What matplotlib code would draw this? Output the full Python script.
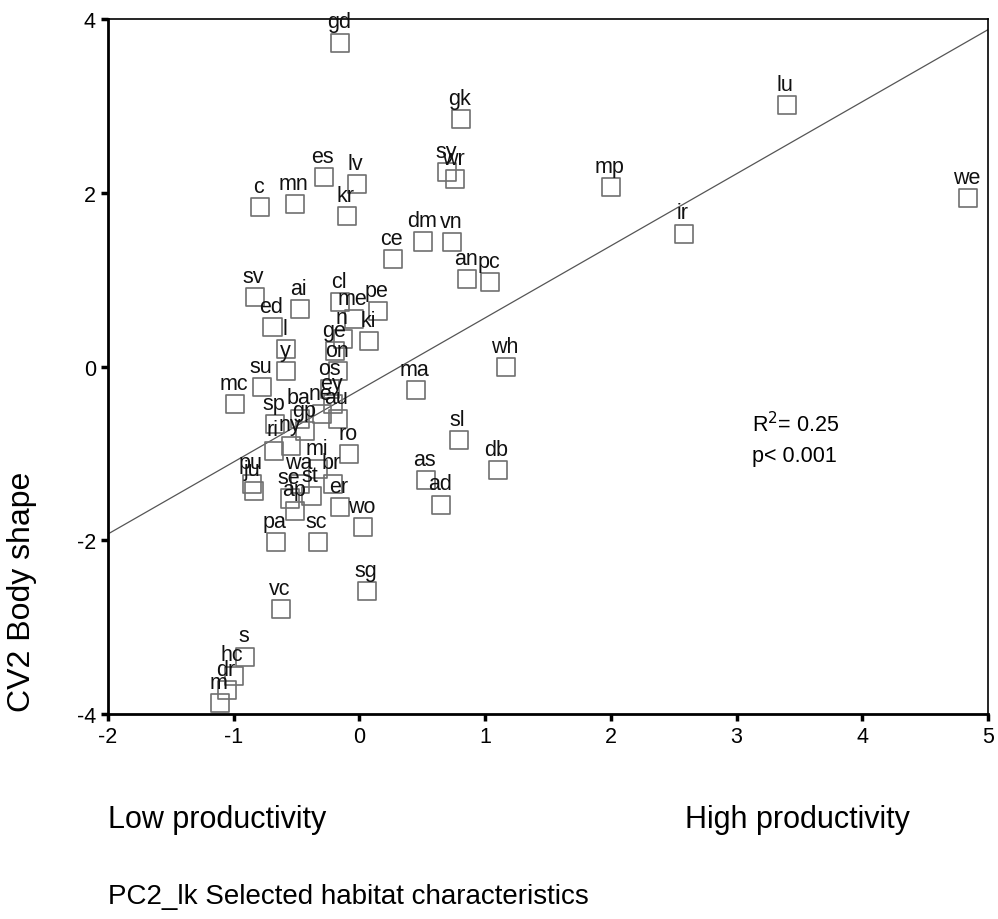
import matplotlib
matplotlib.use("Agg")
import matplotlib.pyplot as plt
import numpy as np

plt.rcParams["font.family"] = ["Liberation Sans", "DejaVu Sans"]
plt.rcParams["axes.unicode_minus"] = False

# site codes and their coordinates (PC2_lk, CV2)
labels = ["gd", "gk", "lu", "we", "mp", "ir", "es", "lv", "kr", "mn", "c",
          "sy", "wr", "dm", "vn", "ce", "an", "pc", "wh", "ma", "sl", "db",
          "as", "ad", "wo", "sg", "vc", "pa", "sc", "s", "hc", "dr", "m",
          "sv", "ai", "ed", "l", "y", "cl", "me", "pe", "n", "ki", "ge",
          "on", "os", "su", "mc", "ba", "ne", "ey", "au", "ro", "sp", "gp",
          "ri", "ny", "pu", "ju", "mi", "wa", "br", "se", "ap", "er", "st"]
pc2 = [-0.15, 0.81, 3.40, 4.84, 2.00, 2.58, -0.28, -0.02, -0.10, -0.51, -0.79,
       0.70, 0.76, 0.51, 0.74, 0.27, 0.86, 1.04, 1.17, 0.45, 0.79, 1.10,
       0.53, 0.65, 0.03, 0.06, -0.62, -0.66, -0.33, -0.91, -1.00, -1.05, -1.11,
       -0.83, -0.47, -0.69, -0.58, -0.58, -0.15, -0.04, 0.15, -0.13, 0.08, -0.19,
       -0.17, -0.23, -0.77, -0.99, -0.47, -0.30, -0.21, -0.17, -0.08, -0.67, -0.43,
       -0.68, -0.54, -0.85, -0.84, -0.33, -0.47, -0.21, -0.55, -0.51, -0.15, -0.38]
cv2 = [3.73, 2.85, 3.01, 1.94, 2.07, 1.53, 2.18, 2.10, 1.73, 1.87, 1.84,
       2.24, 2.16, 1.44, 1.43, 1.24, 1.01, 0.97, -0.01, -0.27, -0.85, -1.19,
       -1.31, -1.59, -1.85, -2.59, -2.79, -2.02, -2.02, -3.34, -3.56, -3.73, -3.88,
       0.80, 0.66, 0.45, 0.20, -0.05, 0.74, 0.55, 0.64, 0.32, 0.29, 0.18,
       -0.05, -0.26, -0.24, -0.43, -0.60, -0.55, -0.43, -0.60, -1.01, -0.66, -0.74,
       -0.97, -0.91, -1.35, -1.43, -1.18, -1.35, -1.35, -1.52, -1.66, -1.62, -1.49]

# fitted regression line
fit_intercept = -0.27
fit_slope = 0.83
r2_text = "R$^2$= 0.25"
p_text = "p< 0.001"

fig = plt.figure(figsize=(9.98, 9.2), dpi=100)
ax = fig.add_axes([0.108, 0.223, 0.882, 0.755])

ax.scatter(pc2, cv2, marker="s", s=13 ** 2, facecolors="none",
           edgecolors="#707070", linewidths=1.2, zorder=3)
for lab, x, y in zip(labels, pc2, cv2):
    ax.annotate(lab, (x, y), xytext=(-1, 11), textcoords="offset points",
                ha="center", va="baseline", fontsize=15.5, color="#111111",
                zorder=4)

xs = np.array([-2.0, 5.0])
ax.plot(xs, fit_intercept + fit_slope * xs, color="#555555", lw=0.9, zorder=2)

ax.text(3.12, -0.66, r2_text, fontsize=15.5, va="center", ha="left")
ax.text(3.12, -1.02, p_text, fontsize=15.5, va="center", ha="left")

ax.set_xlim(-2, 5)
ax.set_ylim(-4, 4)
ax.set_xticks(range(-2, 6))
ax.set_yticks([-4, -2, 0, 2, 4])
ax.tick_params(axis="both", labelsize=15.5, direction="out", width=2.5,
               length=5, color="black")
for side in ["left", "bottom"]:
    ax.spines[side].set_linewidth(2.0)
for side in ["top", "right"]:
    ax.spines[side].set_linewidth(1.2)

ax.set_ylabel("CV2 Body shape", fontsize=23)
ax.yaxis.set_label_coords(-0.08, 0.177)

fig.text(0.108, 0.109, "Low productivity", fontsize=22, va="center", ha="left")
fig.text(0.686, 0.109, "High productivity", fontsize=22, va="center", ha="left")
fig.text(0.108, 0.025, "PC2_lk Selected habitat characteristics", fontsize=20,
         va="center", ha="left")

fig.savefig("out.png", dpi=100)
